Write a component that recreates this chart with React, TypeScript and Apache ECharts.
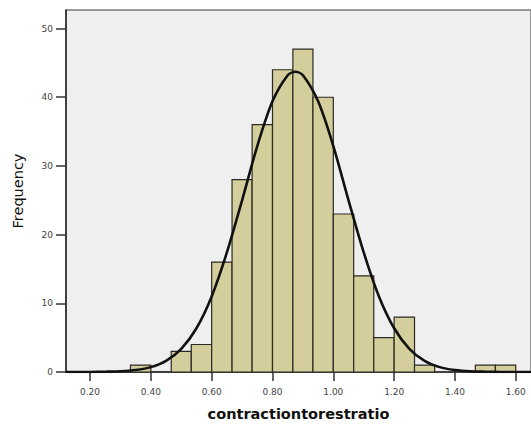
import React, { useEffect, useRef } from "react";
import * as echarts from "echarts";

// Histogram bins (lower edge, upper edge) and counts
const BIN_LOW = [0.333, 0.4, 0.467, 0.533, 0.6, 0.667, 0.733, 0.8, 0.867, 0.933, 1.0, 1.067, 1.133, 1.2, 1.267, 1.333, 1.4, 1.467, 1.533];
const BIN_HIGH = [0.4, 0.467, 0.533, 0.6, 0.667, 0.733, 0.8, 0.867, 0.933, 1.0, 1.067, 1.133, 1.2, 1.267, 1.333, 1.4, 1.467, 1.533, 1.6];
const COUNTS = [1, 0, 3, 4, 16, 28, 36, 44, 47, 40, 23, 14, 5, 8, 1, 0, 0, 1, 1];

// Normal curve points
const CURVE_X = [0.12, 0.15, 0.2, 0.25, 0.3, 0.35, 0.4, 0.45, 0.5, 0.55, 0.6, 0.65, 0.7, 0.75, 0.8, 0.85, 0.875, 0.9, 0.95, 1.0, 1.05, 1.1, 1.15, 1.2, 1.25, 1.3, 1.35, 1.4, 1.45, 1.5, 1.55, 1.6, 1.65];
const CURVE_Y = [0.0, 0.0, 0.01, 0.04, 0.1, 0.29, 0.71, 1.62, 3.37, 6.37, 11.0, 17.4, 25.0, 32.9, 39.4, 43.2, 43.7, 43.2, 39.4, 32.9, 25.0, 17.4, 11.0, 6.37, 3.37, 1.62, 0.71, 0.29, 0.1, 0.04, 0.01, 0.0, 0.0];

const X_TICKS = [0.2, 0.4, 0.6, 0.8, 1.0, 1.2, 1.4, 1.6];
const Y_TICKS = [0, 10, 20, 30, 40, 50];

const X_TITLE = "contractiontorestratio";
const Y_TITLE = "Frequency";

export default function App() {
  const ref = useRef<HTMLDivElement>(null);
  useEffect(() => {
    if (!ref.current) return;
    const chart = echarts.init(ref.current, undefined, { renderer: "svg" });
    const binData = BIN_LOW.map((lo, i) => [lo, BIN_HIGH[i], COUNTS[i]]).filter((d) => d[2] > 0);
    const curveData = CURVE_X.map((x, i) => [x, CURVE_Y[i]]);
    const font = "DejaVu Sans";
    chart.setOption({
      animation: false,
      backgroundColor: "#ffffff",
      grid: {
        left: 66,
        right: 0,
        top: 10,
        bottom: 52,
        containLabel: false,
        outerBoundsMode: "none",
        show: true,
        backgroundColor: "#efefef",
        borderColor: "#7a7a7a",
        borderWidth: 1.5,
      },
      xAxis: {
        type: "value",
        min: 0.121,
        max: 1.65,
        name: X_TITLE,
        nameLocation: "middle",
        nameGap: 34,
        nameTextStyle: { fontFamily: font, fontSize: 14.5, fontWeight: "bold", color: "#111" },
        axisLine: { show: true, onZero: false, lineStyle: { color: "#222", width: 1.5 } },
        axisTick: { show: true, length: 9, customValues: X_TICKS, lineStyle: { color: "#333", width: 1.5 } },
        axisLabel: {
          customValues: X_TICKS,
          formatter: (v: number) => v.toFixed(2),
          fontFamily: font,
          fontSize: 9,
          color: "#444",
          margin: 15,
        },
        splitLine: { show: false },
      },
      yAxis: {
        type: "value",
        min: 0,
        max: 52.7,
        name: Y_TITLE,
        nameLocation: "middle",
        nameGap: 41,
        nameTextStyle: { fontFamily: font, fontSize: 14.5, color: "#111" },
        axisLine: { show: true, lineStyle: { color: "#222", width: 1.5 } },
        axisTick: { show: true, length: 10, customValues: Y_TICKS, lineStyle: { color: "#333", width: 1.5 } },
        axisLabel: {
          customValues: Y_TICKS,
          fontFamily: font,
          fontSize: 9,
          color: "#444",
          margin: 13,
        },
        splitLine: { show: false },
      },
      series: [
        {
          type: "custom",
          data: binData,
          z: 2,
          renderItem: (params: any, api: any) => {
            const p0 = api.coord([api.value(0), 0]);
            const p1 = api.coord([api.value(1), api.value(2)]);
            return {
              type: "rect",
              shape: { x: p0[0], y: p1[1], width: p1[0] - p0[0], height: p0[1] - p1[1] },
              style: { fill: "#d3ce9b", stroke: "#2a2a22", lineWidth: 1.2 },
            };
          },
        },
        {
          type: "line",
          data: curveData,
          smooth: 0.3,
          symbol: "none",
          z: 5,
          lineStyle: { color: "#111", width: 2.6 },
        },
      ],
    });
    return () => chart.dispose();
  }, []);
  return <div ref={ref} style={{ position: "fixed", left: 0, top: 0, width: 531, height: 424 }} />;
}
